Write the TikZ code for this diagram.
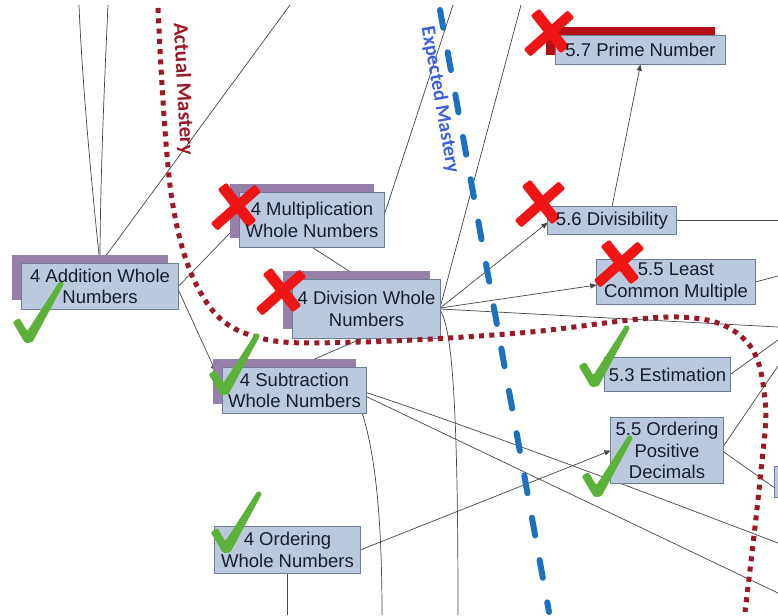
\documentclass[tikz,border=0pt]{standalone}
\usepackage{fontspec}
\setmainfont{Liberation Sans}
\newfontfamily\calloutfont{Carlito}
\usetikzlibrary{arrows.meta}

\definecolor{boxfill}{RGB}{186,201,222}
\definecolor{boxline}{RGB}{110,125,145}
\definecolor{shadowpurple}{RGB}{150,128,170}
\definecolor{barred}{RGB}{178,16,22}
\definecolor{actualred}{RGB}{155,24,38}
\definecolor{expectedblue}{RGB}{28,112,192}
\definecolor{expectedtext}{RGB}{60,95,225}
\definecolor{crossred}{RGB}{240,20,20}
\definecolor{tickgreen}{RGB}{92,178,56}
\definecolor{linkgray}{RGB}{70,70,70}
\definecolor{textdark}{RGB}{25,30,45}

\pgfdeclarelayer{links}
\pgfdeclarelayer{shadows}
\pgfdeclarelayer{boxes}
\pgfdeclarelayer{curves}
\pgfdeclarelayer{marks}
\pgfsetlayers{links,shadows,boxes,curves,marks,main}

\tikzset{
  topic/.style={font=\fontsize{18.5}{21.5}\selectfont, text=textdark, align=center, inner sep=0pt},
  boxbody/.style={fill=boxfill, draw=boxline, line width=0.8pt},
  link/.style={draw=linkgray, line width=0.7pt},
  prereq/.style={link, -{Triangle[length=6.5pt,width=5pt]}},
  frontierlabel/.style={font=\calloutfont\bfseries\fontsize{#1}{#1}\selectfont, inner sep=0pt},
  pics/redx/.style={code={
    \fill[crossred, rounded corners=2pt] (25.3,-16.3) -- (18.7,-23.7) -- (-25.3,15.3) -- (-18.7,22.7) -- cycle;
    \fill[crossred, rounded corners=2pt] (-9.7,-25.4) -- (-18.3,-18.6) -- (11.7,19.4) -- (20.3,12.6) -- cycle;
  }},
  pics/greentick/.style={code={
    \fill[tickgreen, rounded corners=1.5pt] (-15.4,-18) -- (-8.6,-22) -- (-0.7,-8.7) -- (31.8,-59.3)
      -- (36.2,-56.7) -- (4.3,2.5) -- (-3,3) -- cycle;
  }},
}

\begin{document}
\begin{tikzpicture}[x=1pt,y=-1pt]
\useasboundingbox (0,0) rectangle (778,615);

% topic nodes (text only; their boxes are painted on the boxes layer)
\node[topic, minimum width=156, minimum height=45] (add)   at (100,286.5) {4 Addition Whole\\Numbers};
\node[topic, minimum width=144, minimum height=54] (mult)  at (312,220)   {4 Multiplication\\Whole Numbers};
\node[topic, minimum width=147, minimum height=58] (div)   at (366.5,309) {4 Division Whole\\Numbers};
\node[topic, minimum width=143, minimum height=45] (sub)   at (294.5,390.5) {4 Subtraction\\Whole Numbers};
\node[topic, minimum width=145, minimum height=46] (ordw)  at (287.5,550) {4 Ordering\\Whole Numbers};
\node[topic, minimum width=169, minimum height=28] (prime) at (640.5,50)  {5.7 Prime Number};
\node[topic, minimum width=128, minimum height=27] (dvs)   at (612,220.5) {5.6 Divisibility};
\node[topic, minimum width=158, minimum height=44] (lcm)   at (676,282)   {5.5 Least\\Common Multiple};
\node[topic, minimum width=125, minimum height=33] (est)   at (667.5,374.5) {5.3 Estimation};
\node[topic, minimum width=112, minimum height=65] (ordd)  at (667,450.5) {5.5 Ordering\\Positive\\Decimals};
\node[topic, minimum width=4, minimum height=30] (edge)    at (777,482) {};

% free ends of links leaving the frame
\coordinate (t1) at (79,5);
\coordinate (t2) at (108,5);
\coordinate (t3) at (290,5);
\coordinate (t4) at (453,5);
\coordinate (t5) at (521,5);
\coordinate (b1) at (458,615);
\coordinate (b2) at (382,615);
\coordinate (b3) at (287.5,615);
\coordinate (r1) at (778,327);
\coordinate (r2) at (778,543);
\coordinate (r3) at (778,593);
\coordinate (r4) at (778,220.5);
\coordinate (r5) at (778,276);
\coordinate (r6) at (778,340);
\coordinate (r7) at (778,366);

\begin{pgfonlayer}{links}
  \fill[white] (0,0) rectangle (778,615);
  % links from addition
  \draw[link] (add.north) .. controls (92,190) and (82,80) .. (t1);
  \draw[link] (add.north) .. controls (100,190) and (104,90) .. (t2);
  \draw[link] (add.north) -- (t3);
  \draw[prereq] (add.east) -- ([shift={(0,3)}]mult.west);
  \draw[prereq] ([shift={(0,3)}]add.east) -- ([shift={(-7,4)}]sub.north west);
  % multiplication
  \draw[prereq] (mult.south) -- ([shift={(-4,0)}]div.north);
  \draw[link] ([shift={(0,-5)}]mult.east) -- (t4);
  % division fan
  \draw[link] ([shift={(0,-2)}]div.east) -- (t5);
  \draw[prereq] ([shift={(0,-1)}]div.east) -- ([shift={(0,2)}]dvs.west);
  \draw[prereq] ([shift={(0,-1)}]div.east) -- ([shift={(0,3)}]lcm.west);
  \draw[link] (div.east) -- (r1);
  \draw[link] ([shift={(0,1)}]div.east) .. controls (452,330) and (458,400) .. (b1);
  % subtraction
  \draw[prereq] (sub.north) -- ([shift={(-4,0)}]div.south);
  \draw[link] ([shift={(0,2)}]sub.east) .. controls (450,420) and (600,475) .. (r2);
  \draw[link] ([shift={(0,6)}]sub.east) -- (r3);
  \draw[link] ([shift={(-4,0)}]sub.south east) .. controls (377,460) and (382,530) .. (b2);
  % ordering whole numbers
  \draw[prereq] (ordw.east) -- (ordd.west);
  \draw[link] (ordw.south) -- (b3);
  % grade 5 topics
  \draw[prereq] (dvs.north) -- (prime.south);
  \draw[link] (dvs.east) -- (r4);
  \draw[link] (lcm.east) -- (r5);
  \draw[link] (est.east) -- (r6);
  \draw[link] ([shift={(0,-4)}]ordd.east) -- (r7);
  \draw[link] ([shift={(0,1)}]ordd.east) -- ([shift={(0,6)}]edge.west);
\end{pgfonlayer}

\begin{pgfonlayer}{shadows}
  \foreach \n in {add,mult,div,sub}
    \fill[shadowpurple] ([shift={(-10,-9)}]\n.south west) rectangle ([shift={(-10,-9)}]\n.north east);
  \fill[barred] ([shift={(-10,-9)}]prime.south west) rectangle ([shift={(-10,-9)}]prime.north east);
\end{pgfonlayer}

\begin{pgfonlayer}{boxes}
  \foreach \n in {add,mult,div,sub,ordw,prime,dvs,lcm,est,ordd,edge}
    \draw[boxbody] (\n.south west) rectangle (\n.north east);
\end{pgfonlayer}

\begin{pgfonlayer}{curves}
  % actual mastery frontier
  \draw[actualred, line width=5pt, dash pattern=on 5pt off 5.3pt]
    plot[smooth, tension=0.6] coordinates {(158,8) (172,200) (205,300) (260,338) (360,342)
      (520,333) (678,317) (745,340) (765,400) (760,480) (745,612)};
  % expected mastery frontier
  \draw[expectedblue, line width=6pt, line cap=round, dash pattern=on 18pt off 25pt]
    (440,10) -- (549,612);
\end{pgfonlayer}

\begin{pgfonlayer}{marks}
  \pic at (549,34)  {redx};
  \pic at (540,205) {redx};
  \pic at (619,265) {redx};
  \pic at (236,208) {redx};
  \pic at (281,293) {redx};
  \pic at (28,340)  {greentick};
  \pic at (224,392) {greentick};
  \pic at (594,384) {greentick};
  \pic at (597,494) {greentick};
  \pic at (226,550) {greentick};
\end{pgfonlayer}

% frontier labels
\node[frontierlabel=21, rotate=-87, text=actualred] (actuallbl) at (183,89) {Actual Mastery};
\node[frontierlabel=20, rotate=-80, text=expectedtext] (expectedlbl) at (440,100) {Expected Mastery};
\end{tikzpicture}
\end{document}
